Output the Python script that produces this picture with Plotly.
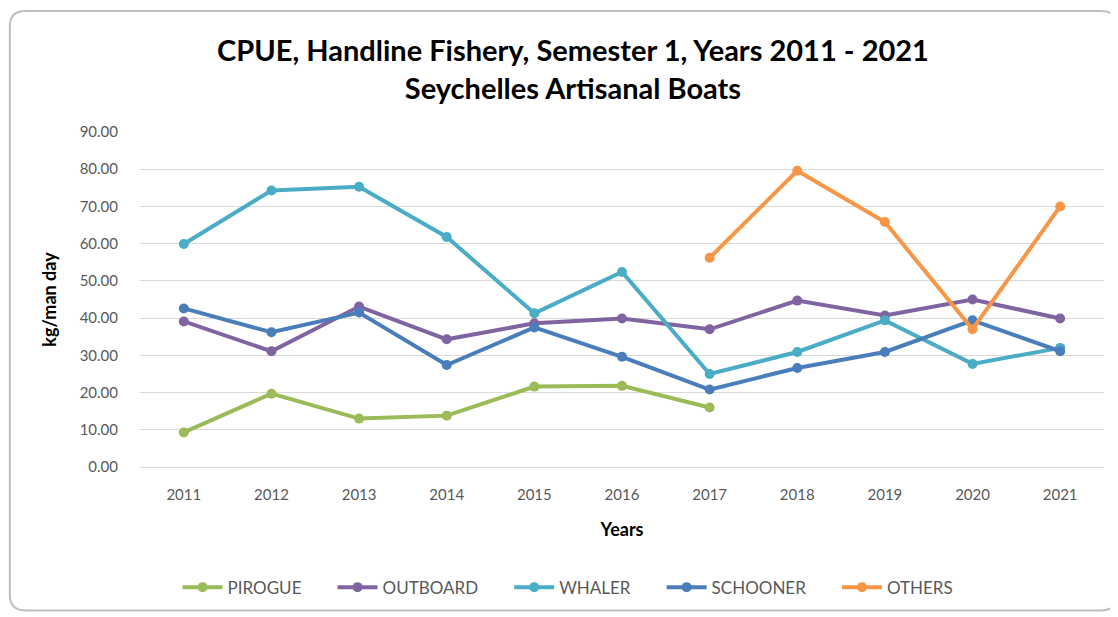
import plotly.graph_objects as go

years = ["2011", "2012", "2013", "2014", "2015", "2016", "2017", "2018", "2019", "2020", "2021"]

pirogue = [9.3, 19.7, 13.0, 13.8, 21.6, 21.8, 16.0, None, None, None, None]
outboard = [39.1, 31.1, 43.1, 34.3, 38.6, 39.9, 37.0, 44.7, 40.7, 45.0, 39.9]
whaler = [59.9, 74.3, 75.3, 61.8, 41.3, 52.4, 25.0, 30.9, 39.4, 27.7, 32.0]
schooner = [42.6, 36.2, 41.5, 27.4, 37.5, 29.6, 20.8, 26.6, 30.9, 39.4, 31.1]
others = [None, None, None, None, None, None, 56.2, 79.6, 65.8, 37.0, 70.0]

series = [
    ("PIROGUE", pirogue, "#9BBB59"),
    ("OUTBOARD", outboard, "#8064A2"),
    ("WHALER", whaler, "#4BACC6"),
    ("SCHOONER", schooner, "#4A7EBB"),
    ("OTHERS", others, "#F79646"),
]

font_main = "Lato, 'Open Sans', sans-serif"
pad = "\u00a0" * 6  # extra gap between legend entries

fig = go.Figure()
for name, vals, col in series:
    fig.add_trace(go.Scatter(
        x=years, y=vals, name=name + pad, mode="lines+markers",
        line=dict(color=col, width=4),
        marker=dict(color=col, size=10),
        connectgaps=False,
        hovertemplate=name + ": %{y:.2f}<extra></extra>",
    ))

# page has an 8px body margin, so the figure is a bit smaller than the window
fig.update_layout(
    width=1110, height=609,
    paper_bgcolor="white", plot_bgcolor="white",
    margin=dict(l=132, r=14, t=124, b=150),
    title=dict(
        text="<b>CPUE, Handline Fishery, Semester 1, Years 2011 - 2021<br>Seychelles Artisanal Boats</b>",
        x=0.509, xanchor="center", y=0.913, yanchor="top",
        font=dict(family=font_main, size=29, color="#000000"),
    ),
    font=dict(family=font_main, color="#595959"),
    legend=dict(
        orientation="h", x=0.039, xanchor="left", y=-0.36, yanchor="middle",
        font=dict(size=17, color="#595959"),
        itemwidth=40, tracegroupgap=0,
    ),
    showlegend=True,
)

fig.update_xaxes(
    type="category", range=[-0.5, 10.5],
    showgrid=False, showline=True, linecolor="#D9D9D9", linewidth=1,
    ticks="", tickfont=dict(size=15, color="#595959"), ticklabelstandoff=14,
    title=dict(text="<b>Years</b>", font=dict(size=18, color="#000000"), standoff=21),
)
fig.update_yaxes(
    range=[0, 90], dtick=10, tickformat=".2f",
    showgrid=True, gridcolor="#D9D9D9", gridwidth=1,
    zeroline=False, showline=False, ticks="",
    tickfont=dict(size=15, color="#595959"), ticklabelstandoff=21,
    title=dict(text="<b>kg/man day</b>", font=dict(size=18, color="#000000"), standoff=18),
)

# rounded chart frame (paper coords)
x0, x1, y0, y1 = -0.135, 1.013, -0.428, 1.361
rx, ry = 0.016, 0.045
frame = (f"M {x0+rx},{y1} L {x1-rx},{y1} Q {x1},{y1} {x1},{y1-ry} "
         f"L {x1},{y0+ry} Q {x1},{y0} {x1-rx},{y0} L {x0+rx},{y0} "
         f"Q {x0},{y0} {x0},{y0+ry} L {x0},{y1-ry} Q {x0},{y1} {x0+rx},{y1} Z")
fig.add_shape(type="path", xref="paper", yref="paper", path=frame,
              line=dict(color="#BFBFBF", width=2), layer="below")

fig.write_html("out.html")
